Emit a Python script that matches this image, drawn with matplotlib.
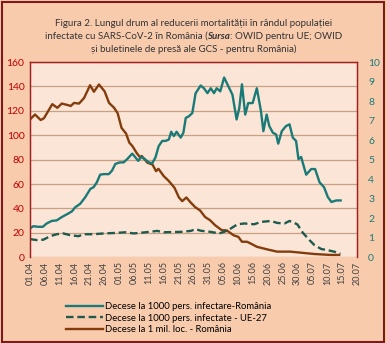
import matplotlib.pyplot as plt
from matplotlib.patches import Rectangle

# zile de la 01.04 si valorile
zile_ro = [0, 1.1, 2.8, 4.3, 5.6, 7.3, 9.0, 10.7, 12.4, 14.1, 15.2, 16.9, 18.6, 20.3, 21.4,
           22.5, 23.6, 24.8, 26.5, 27.6, 28.7, 30.2, 31.5, 32.7, 34.4, 35.5, 36.4, 37.5,
           38.6, 40.0, 41.1, 42.2, 43.3, 44.5, 45.6, 46.7, 47.5, 48.4, 49.3, 50.7, 51.6,
           52.4, 53.5, 54.6, 55.7, 57.4, 58.5, 59.7, 60.8, 61.9, 62.8, 64.0, 65.3, 66.5,
           68.1, 69.5, 70.4, 71.3, 72.4, 73.4, 74.9, 76.3, 77.7, 78.5, 79.6, 80.5, 81.7,
           82.8, 83.5, 84.7, 86.1, 87.3, 88.4, 89.5, 90.3, 91.2, 92.9, 94.6, 95.9, 97.4,
           98.9, 100.2, 101.4, 103.0, 104.5]
decese_ro = [1.48, 1.59, 1.56, 1.56, 1.73, 1.86, 1.89, 2.06, 2.20, 2.35, 2.56, 2.74, 3.08,
             3.50, 3.59, 3.84, 4.23, 4.26, 4.26, 4.44, 4.78, 4.86, 4.86, 5.03, 5.31, 5.11,
             4.94, 5.14, 5.03, 4.86, 4.81, 5.11, 5.70, 5.96, 5.96, 6.03, 6.43, 6.21, 6.43,
             6.13, 6.38, 7.14, 7.23, 7.39, 8.40, 8.80, 8.66, 8.41, 8.66, 8.41, 8.66, 8.50,
             9.21, 8.83, 8.33, 7.06, 7.64, 8.86, 7.31, 7.90, 7.90, 8.66, 7.48, 6.46, 7.31,
             6.72, 6.38, 6.29, 5.82, 6.46, 6.72, 6.81, 6.13, 5.96, 5.03, 5.14, 4.23, 4.52,
             4.52, 3.84, 3.59, 3.08, 2.83, 2.91, 2.91]

zile_ue = [0, 2.3, 4.5, 6.8, 9.0, 11.2, 13.5, 16.3, 18.0, 21.4, 24.8, 29.3, 32.1, 34.9,
           38.3, 42.8, 45.0, 50.7, 54.1, 55.7, 57.4, 60.8, 63.6, 65.3, 67.0, 69.8, 72.1,
           75.4, 77.7, 81.1, 83.1, 85.6, 87.3, 89.9, 91.8, 94.0, 95.7, 98.0, 100.2, 102.5,
           104.4]
decese_ue = [0.93, 0.88, 0.90, 1.08, 1.18, 1.22, 1.13, 1.08, 1.18, 1.18, 1.22, 1.25, 1.28,
             1.22, 1.27, 1.35, 1.28, 1.30, 1.35, 1.44, 1.36, 1.30, 1.22, 1.30, 1.42, 1.69,
             1.73, 1.69, 1.81, 1.86, 1.76, 1.73, 1.86, 1.69, 1.25, 0.88, 0.62, 0.42, 0.36,
             0.28, 0.17]

zile_mil = [0, 1.7, 3.6, 4.7, 7.5, 9.2, 10.7, 13.1, 13.7, 14.8, 16.5, 18.2, 20.2, 21.5,
            23.2, 25.1, 26.6, 28.3, 29.5, 30.8, 32.3, 33.4, 34.5, 35.9, 37.0, 37.6, 39.5,
            41.2, 42.4, 43.2, 45.0, 46.7, 48.6, 50.1, 51.2, 52.6, 54.0, 55.6, 57.2, 58.9,
            60.6, 62.3, 64.5, 66.2, 68.5, 70.1, 71.3, 73.0, 74.6, 76.3, 79.7, 83.1, 87.5,
            90.9, 95.4, 101.0, 104.0]
decese_mil = [113, 117, 112.5, 114, 125.5, 122.5, 126, 124.5, 124, 126.5, 126, 130.6, 141,
              135.7, 141.6, 136, 126.5, 122.5, 118, 106, 101.5, 94, 91, 85.4, 82, 83, 77.5,
              76, 70.6, 72.5, 66.5, 62.5, 57, 49, 46, 49, 45, 41, 38.4, 33, 30.3, 26.2,
              22.2, 22, 18, 16.7, 12.7, 12.7, 10.8, 8.6, 6.5, 4.6, 4.6, 3.8, 2.7, 1.9, 1.9]

etichete = ['01.04', '06.04', '11.04', '16.04', '21.04', '26.04', '01.05', '06.05', '11.05',
            '16.05', '21.05', '26.05', '31.05', '05.06', '10.06', '15.06', '20.06', '25.06',
            '30.06', '05.07', '10.07', '15.07', '20.07']

plt.rcParams['font.family'] = ['Lato', 'DejaVu Sans']

fig = plt.figure(figsize=(3.87, 3.43), dpi=100, facecolor='#F8CBAD')
fig.patches.append(Rectangle((0.004, 0.004), 0.988, 0.99, transform=fig.transFigure,
                             fill=False, edgecolor='#7B1A1A', linewidth=1.5))

ax = fig.add_axes([0.0775, 0.25, 0.845, 0.569])
ax.set_facecolor('#FBE5D6')
ax2 = ax.twinx()

l3, = ax.plot(zile_mil, decese_mil, color='#843C0C', linewidth=1.7, label='Decese la 1 mil. loc. - România')
l1, = ax2.plot(zile_ro, decese_ro, color='#1A7A78', linewidth=1.7, label='Decese la 1000 pers. infectare-România')
l2, = ax2.plot(zile_ue, decese_ue, color='#1E5A4E', linewidth=1.7, linestyle=(0, (3.2, 1.6)),
               label='Decese la 1000 pers. infectate - UE-27')

ax.set_xlim(0, 110)
ax.set_ylim(0, 160)
ax2.set_ylim(0, 10)
ax.set_yticks(range(0, 161, 20))
ax2.set_yticks(range(0, 11))
ax.set_xticks(range(0, 111, 5))
ax.set_xticklabels(etichete, rotation=90, fontsize=6.5, color='#404040')
ax.yaxis.grid(True, color='#C9A085', linewidth=0.9)
ax.set_axisbelow(True)
ax.tick_params(axis='y', length=0, labelsize=7.5, labelcolor='#C00000', pad=4)
ax.tick_params(axis='x', length=0, pad=3)
ax2.tick_params(axis='y', length=0, labelsize=7.5, labelcolor='#1A7A78', pad=8)
for a in (ax, ax2):
    for s in ['left', 'top', 'right']:
        a.spines[s].set_color('#A02020')
        a.spines[s].set_linewidth(0.9)
    a.spines['bottom'].set_visible(False)

# titlul, cu "Sursa" bold-italic pe randul al doilea
tc = '#333333'
fig.text(0.5, 0.925, 'Figura 2. Lungul drum al reducerii mortalității în rândul populației',
         ha='center', fontsize=7, color=tc)
fig.text(0.5, 0.849, 'și buletinele de presă ale GCS - pentru România)',
         ha='center', fontsize=7, color=tc)
bucati = [('infectate cu SARS-CoV-2 în România (', 'normal', 'normal'),
          ('Sursa', 'bold', 'italic'),
          (': OWID pentru UE; OWID', 'normal', 'normal')]
r = fig.canvas.get_renderer()
texte = [fig.text(0, 0.887, t, fontsize=7, color=tc, fontweight=w, fontstyle=st)
         for t, w, st in bucati]
latimi = [t.get_window_extent(r).width for t in texte]
W = fig.get_figwidth() * fig.dpi
x = (W - sum(latimi)) / 2
for t, lw in zip(texte, latimi):
    t.set_x(x / W)
    x += lw

fig.legend([l1, l2, l3], [l1.get_label(), l2.get_label(), l3.get_label()],
           loc='upper left', bbox_to_anchor=(0.16, 0.13), frameon=False, fontsize=6.8,
           handlelength=3.9, handletextpad=0.3, labelspacing=0.25, borderaxespad=0)

fig.savefig('out.png', dpi=100, facecolor=fig.get_facecolor())
